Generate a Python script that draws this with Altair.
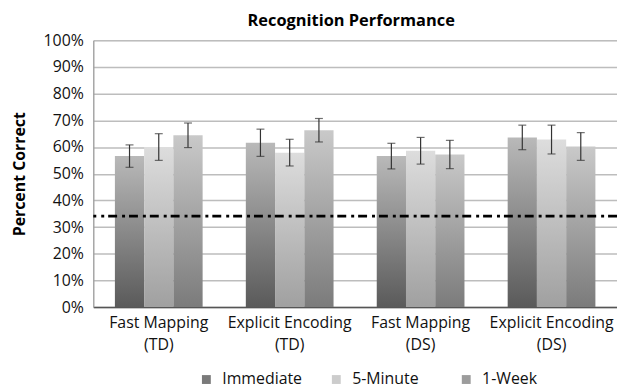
import altair as alt
import pandas as pd

groups = ["Fast Mapping (TD)", "Explicit Encoding (TD)", "Fast Mapping (DS)", "Explicit Encoding (DS)"]
series = ["Immediate", "5-Minute", "1-Week"]
immediate = [56.6, 61.6, 56.6, 63.6]
five_minute = [60.0, 57.9, 58.6, 62.8]
one_week = [64.4, 66.3, 57.2, 60.2]
err_immediate = [4.2, 5.1, 4.8, 4.6]
err_five_minute = [5.0, 5.0, 5.0, 5.4]
err_one_week = [4.6, 4.4, 5.3, 5.2]
chance = 34.1
y_ticks = [0, 10, 20, 30, 40, 50, 60, 70, 80, 90, 100]

legend_colors = ["#7a7a7a", "#cccccc", "#9c9c9c"]
gradients = {
    "Immediate": ("#5a5a5a", "#b9b9b9"),
    "5-Minute": ("#a0a0a0", "#dddddd"),
    "1-Week": ("#7b7b7b", "#c9c9c9"),
}

rows = []
for s, vals, errs in [("Immediate", immediate, err_immediate),
                      ("5-Minute", five_minute, err_five_minute),
                      ("1-Week", one_week, err_one_week)]:
    for g, v, e in zip(groups, vals, errs):
        rows.append({"group": g, "series": s, "value": v, "err": e})
df = pd.DataFrame(rows)

FONT = "Open Sans"

x_axis = alt.Axis(labelAngle=0, labelFontSize=16, labelFont=FONT, labelColor="#111",
                  labelPadding=8, labelLineHeight=22, ticks=False,
                  domainColor="#555", domainWidth=1.5, grid=False,
                  labelExpr="[slice(datum.value, 0, indexof(datum.value, ' (')), slice(datum.value, indexof(datum.value, ' (') + 1)]")
x_enc = alt.X("group:N", sort=groups, title=None,
              scale=alt.Scale(paddingInner=0.33, paddingOuter=0.165), axis=x_axis)
xoff_enc = alt.XOffset("series:N", sort=series, scale=alt.Scale(domain=series, paddingInner=0, paddingOuter=0))
y_scale = alt.Scale(domain=[0, 100])
y_axis = alt.Axis(values=y_ticks, labelExpr="datum.value + '%'", labelFontSize=16, labelOverlap=False,
                  labelFont=FONT, labelColor="#111", labelPadding=10, ticks=False, tickCount=11,
                  domainColor="#999", domainWidth=1.2, gridColor="#bdbdbd", gridWidth=1.5,
                  titleFont=FONT, titleFontSize=16, titleFontWeight="bold", titleColor="#000",
                  titleX=-74, titleY=134.5, titleAngle=270, titleAlign="center",
                  titleBaseline="middle")

base = alt.Chart(df)

layers = []
for i, s in enumerate(series):
    lo, hi = gradients[s]
    layers.append(
        base.transform_filter(alt.datum.series == s).mark_bar(
            fill=alt.Gradient(gradient="linear",
                              stops=[alt.GradientStop(color=lo, offset=0), alt.GradientStop(color=hi, offset=1)],
                              x1=0, x2=0, y1=1, y2=0),
            strokeWidth=0
        ).encode(x=x_enc, xOffset=xoff_enc,
                 y=alt.Y("value:Q", scale=y_scale, title="Percent Correct", axis=y_axis))
    )

err_base = base.transform_calculate(lo="datum.value - datum.err", hi="datum.value + datum.err")
rules = err_base.mark_rule(color="#333", strokeWidth=1.2).encode(
    x=x_enc, xOffset=xoff_enc,
    y=alt.Y("lo:Q", scale=y_scale, title="Percent Correct", axis=y_axis), y2="hi:Q")
caps_lo = err_base.mark_tick(color="#333", thickness=1.2, size=8, orient="horizontal").encode(
    x=x_enc, xOffset=xoff_enc, y=alt.Y("lo:Q", scale=y_scale, title="Percent Correct", axis=y_axis))
caps_hi = err_base.mark_tick(color="#333", thickness=1.2, size=8, orient="horizontal").encode(
    x=x_enc, xOffset=xoff_enc, y=alt.Y("hi:Q", scale=y_scale, title="Percent Correct", axis=y_axis))

chance_line = alt.Chart(pd.DataFrame({"c": [chance]})).mark_rule(
    color="#000", strokeWidth=2.6, strokeDash=[9, 4, 3, 5]
).encode(y=alt.Y("c:Q", scale=y_scale, title="Percent Correct", axis=y_axis))

legend_layer = base.mark_square(opacity=0).encode(
    x=x_enc, xOffset=xoff_enc,
    y=alt.Y("value:Q", scale=y_scale, title="Percent Correct", axis=y_axis),
    color=alt.Color("series:N", sort=series,
                    scale=alt.Scale(domain=series, range=legend_colors),
                    legend=alt.Legend(title=None, orient="none", legendX=106, legendY=334,
                                      direction="horizontal", symbolType="square", symbolSize=80,
                                      symbolOpacity=1, symbolStrokeWidth=0,
                                      labelFont=FONT, labelFontSize=16, labelColor="#111",
                                      labelOffset=8, columnPadding=26, gridAlign="all")))

chart = alt.layer(*layers, rules, caps_lo, caps_hi, chance_line, legend_layer).properties(
    width=528, height=269,
    title=alt.TitleParams("Recognition Performance", font=FONT, fontSize=16.5, fontWeight="bold",
                          color="#000", anchor="middle", dx=-4, offset=3),
    padding={"left": 86, "top": 31, "right": 0, "bottom": 83},
    autosize=alt.AutoSizeParams(type="none"),
).configure_view(stroke=None).configure(background="white")

chart.save("out.html", embed_options={"renderer": "svg", "actions": False})
